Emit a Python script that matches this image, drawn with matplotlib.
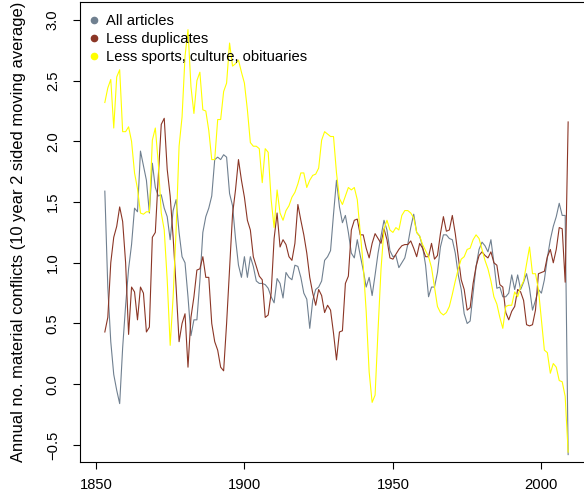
"""
Material conflicts per year, 10 year two-sided moving average,
for three article selections.
"""

import numpy as np
import matplotlib.pyplot as plt
from matplotlib.lines import Line2D

OUT_PATH = "out.png"

years = np.arange(1853, 2010)

all_articles = [
    1.59, 0.80, 0.35, 0.08, -0.05, -0.16, 0.30,                  # 1853-59
    0.65, 0.95, 1.15, 1.45, 1.42, 1.92, 1.80, 1.68, 1.41, 1.82,  # 1860s
    1.62, 1.55, 1.56, 1.45, 1.38, 1.19, 1.43, 1.52, 1.25, 1.05,  # 1870s
    1.00, 0.72, 0.40, 0.53, 0.53, 0.85, 1.25, 1.38, 1.45, 1.55,  # 1880s
    1.85, 1.87, 1.85, 1.89, 1.87, 1.57, 1.47, 1.20, 0.98, 0.88,  # 1890s
    1.05, 0.88, 1.05, 0.97, 0.85, 0.83, 0.83, 0.82, 0.79, 0.72,  # 1900s
    0.67, 0.87, 0.83, 0.71, 0.92, 0.88, 0.86, 0.98, 0.97, 0.88,  # 1910s
    0.75, 0.70, 0.46, 0.69, 0.78, 0.80, 0.85, 1.02, 1.05, 1.10,  # 1920s
    1.40, 1.68, 1.46, 1.33, 1.39, 1.25, 1.08, 1.04, 1.19, 1.06,  # 1930s
    0.94, 0.80, 0.88, 0.73, 0.90, 1.08, 1.22, 1.35, 1.27, 1.10,  # 1940s
    1.05, 1.06, 0.96, 1.00, 1.04, 1.15, 1.29, 1.40, 1.25, 1.22,  # 1950s
    1.13, 0.98, 0.72, 0.80, 0.80, 0.92, 1.13, 1.23, 1.23, 1.20,  # 1960s
    1.19, 1.08, 0.90, 0.78, 0.58, 0.50, 0.52, 0.75, 0.97, 1.11,  # 1970s
    1.17, 1.14, 1.09, 1.19, 1.00, 0.79, 0.80, 0.72, 0.72, 0.75,  # 1980s
    0.90, 0.78, 0.90, 0.78, 0.84, 0.91, 0.79, 0.61, 0.69, 0.78,  # 1990s
    0.75, 0.86, 1.04, 1.19, 1.30, 1.38, 1.49, 1.39, 1.39, -0.58, # 2000s
]

less_duplicates = [
    0.43, 0.55, 1.00, 1.21, 1.30, 1.46, 1.34,
    1.00, 0.41, 0.80, 0.76, 0.53, 0.80, 0.75, 0.43, 0.47, 1.21,
    1.25, 1.71, 2.14, 2.19, 1.77, 1.55, 1.21, 0.80, 0.35, 0.50,
    0.58, 0.14, 0.55, 0.72, 0.94, 0.95, 1.05, 0.88, 0.88, 0.50,
    0.35, 0.28, 0.14, 0.11, 0.50, 0.95, 1.40, 1.60, 1.85, 1.68,
    1.54, 1.35, 1.27, 1.05, 0.97, 0.89, 0.86, 0.55, 0.57, 0.75,
    1.20, 1.41, 1.13, 1.19, 1.15, 1.05, 1.02, 1.16, 1.48, 1.35,
    1.23, 1.08, 0.88, 0.75, 0.65, 0.78, 0.73, 0.59, 0.65, 0.61,
    0.42, 0.20, 0.43, 0.44, 0.83, 0.89, 1.27, 1.35, 1.36, 1.23,
    1.23, 1.12, 1.04, 1.16, 1.24, 1.20, 1.16, 1.28, 1.19, 1.04,
    1.03, 1.07, 1.11, 1.14, 1.15, 1.15, 1.18, 1.12, 1.05, 1.16,
    1.12, 1.05, 1.05, 1.16, 1.03, 1.06, 1.24, 1.38, 1.26, 1.27,
    1.39, 1.24, 1.05, 0.86, 0.78, 0.61, 0.63, 0.83, 0.97, 1.06,
    1.09, 1.06, 1.04, 1.09, 1.00, 0.98, 0.82, 0.80, 0.59, 0.53,
    0.60, 0.64, 0.78, 0.76, 0.69, 0.49, 0.48, 0.49, 0.61, 0.91,
    0.92, 0.93, 1.05, 1.11, 1.00, 1.11, 1.29, 1.28, 0.84, 2.16,
]

less_sports = [
    2.32, 2.44, 2.51, 2.11, 2.53, 2.59, 2.08,
    2.08, 2.12, 2.00, 1.74, 1.61, 1.41, 1.40, 1.42, 1.42, 2.01,
    2.11, 1.82, 1.41, 1.27, 0.86, 0.32, 0.72, 1.27, 1.96, 2.20,
    2.70, 2.92, 2.45, 2.23, 2.50, 2.57, 2.26, 2.25, 2.09, 1.85,
    1.85, 2.18, 2.18, 2.41, 2.48, 2.81, 2.62, 2.64, 2.67, 2.57,
    2.48, 2.26, 1.99, 1.96, 1.96, 1.94, 1.66, 1.94, 1.91, 1.52,
    1.29, 1.60, 1.41, 1.35, 1.43, 1.47, 1.54, 1.58, 1.65, 1.74,
    1.74, 1.62, 1.68, 1.72, 1.73, 1.78, 2.01, 2.08, 2.06, 2.04,
    2.04, 1.74, 1.53, 1.48, 1.55, 1.62, 1.60, 1.62, 1.52, 1.25,
    0.98, 0.60, 0.10, -0.15, -0.09, 0.45, 0.95, 1.28, 1.35, 1.27,
    1.25, 1.29, 1.27, 1.39, 1.43, 1.43, 1.41, 1.37, 1.25, 1.22,
    1.15, 1.10, 1.05, 0.96, 0.80, 0.64, 0.59, 0.57, 0.59, 0.64,
    0.74, 0.85, 0.95, 1.03, 1.05, 1.11, 1.12, 1.19, 1.23, 1.20,
    1.11, 1.02, 0.95, 0.85, 0.72, 0.66, 0.55, 0.46, 0.64, 0.65,
    0.65, 0.76, 0.72, 0.80, 0.85, 0.99, 1.13, 0.91, 0.91, 0.78,
    0.53, 0.28, 0.26, 0.09, 0.17, 0.14, 0.03, 0.02, -0.10, -0.56,
]

series_labels = ["All articles", "Less duplicates",
                 "Less sports, culture, obituaries"]
series_colors = ["#708090", "#8B3626", "#FFFF00"]

plt.rcParams.update({
    "font.family": ["Liberation Sans", "DejaVu Sans"],
    "font.size": 10.6,
    "axes.linewidth": 0.8,
})

fig = plt.figure(figsize=(5.84, 5.01), dpi=100)
# the plot box runs past the right edge of the canvas
ax = fig.add_axes([80 / 584, 39 / 501, 510 / 584, 460 / 501])

for vals, col in zip([all_articles, less_duplicates, less_sports], series_colors):
    ax.plot(years, vals, color=col, linewidth=0.8)

ax.set_xlim(1844.64, 2016.36)
ax.set_ylim(-0.641, 3.148)
ax.set_xticks([1850, 1900, 1950, 2000])
ax.set_yticks(np.arange(-0.5, 3.01, 0.5))
ax.set_yticklabels([f"{v:.1f}".replace("-", "\u2212") for v in np.arange(-0.5, 3.01, 0.5)])
ax.tick_params(axis="x", length=5, width=0.8, pad=6.5)
ax.tick_params(axis="y", length=5, width=0.8, pad=9.5, labelrotation=90)
for lab in ax.get_yticklabels():
    lab.set_va("center")

ax.set_ylabel("Annual no. material conflicts (10 year 2 sided moving average)",
              fontsize=11.9)
ax.yaxis.set_label_coords(-0.105, 0.5)

handles = [Line2D([], [], marker="o", linestyle="", markersize=4.5,
                  color=c) for c in series_colors]
ax.legend(handles, series_labels, loc="upper left", frameon=False,
          bbox_to_anchor=(-0.008, 1.0), handlelength=0.8, handletextpad=0.45,
          labelspacing=0.26, borderpad=0.35, borderaxespad=0.47)

plt.savefig(OUT_PATH, dpi=100)
print(f"Saved {OUT_PATH}")
